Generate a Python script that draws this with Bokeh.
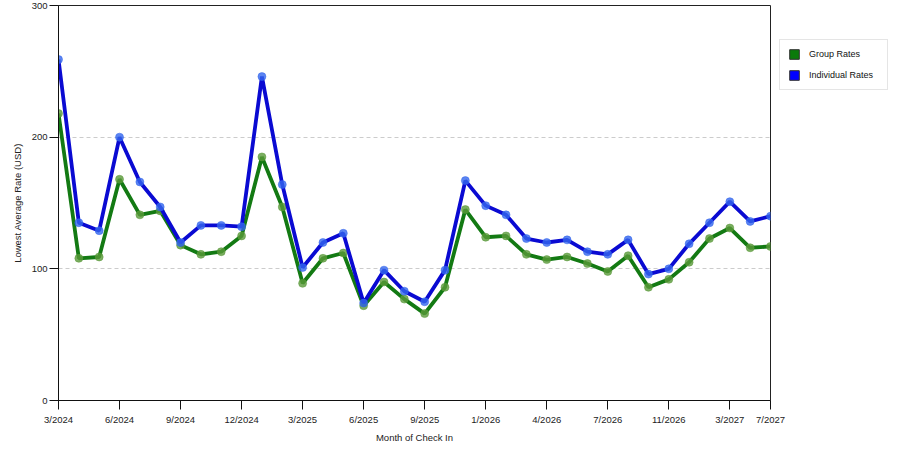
from bokeh.plotting import figure
from bokeh.models import ColumnDataSource, FixedTicker, Legend, LegendItem
from bokeh.embed import file_html
from bokeh.resources import INLINE

# months of check in (one point per entry), labels shown on every 3rd point + last
months = ["3/2024", "4/2024", "5/2024", "6/2024", "7/2024", "8/2024", "9/2024",
          "10/2024", "11/2024", "12/2024", "1/2025", "2/2025", "3/2025", "4/2025",
          "5/2025", "6/2025", "7/2025", "8/2025", "9/2025", "10/2025", "11/2025",
          "1/2026", "2/2026", "3/2026", "4/2026", "5/2026", "6/2026", "7/2026",
          "8/2026", "10/2026", "11/2026", "12/2026", "1/2027", "3/2027", "5/2027",
          "7/2027"]
tick_idx = [0, 3, 6, 9, 12, 15, 18, 21, 24, 27, 30, 33, 35]

group_rates = [218, 108, 109, 168, 141, 144, 118, 111, 113, 125, 185, 147,
               89, 108, 112, 72, 90, 77, 66, 86, 145, 124, 125, 111,
               107, 109, 104, 98, 110, 86, 92, 105, 123, 131, 116, 117]
indiv_rates = [259, 135, 129, 200, 166, 147, 120, 133, 133, 132, 246, 164,
               101, 120, 127, 74, 99, 83, 75, 99, 167, 148, 141, 123,
               120, 122, 113, 111, 122, 96, 100, 119, 135, 151, 136, 140]

x = list(range(len(months)))
src = ColumnDataSource(dict(x=x, g=group_rates, i=indiv_rates))

FONT = "Liberation Sans"

p = figure(frame_width=712, frame_height=395, output_backend="svg",
           toolbar_location=None,
           x_range=(0, len(months) - 1), y_range=(0, 300),
           min_border_left=58, min_border_right=0, min_border_top=5,
           min_border_bottom=40)
p.outline_line_color = "#222222"
p.background_fill_color = "white"
p.border_fill_color = "white"

gl = p.line("x", "g", source=src, line_color="#137a13", line_width=3.8)
gs = p.scatter("x", "g", source=src, size=8, fill_color="#5a9a3a",
               line_color="#5a9a3a", fill_alpha=0.8, line_alpha=0.5)
bl = p.line("x", "i", source=src, line_color="#0a0ad2", line_width=3.8)
bs = p.scatter("x", "i", source=src, size=8, fill_color="#3366ee",
               line_color="#3366ee", fill_alpha=0.8, line_alpha=0.5)

# hidden rects, only used for the square legend swatches
sq_g = p.rect("x", "g", width=0.1, height=1, source=src, visible=False,
              fill_color="#0b7b0b", line_color="#333333")
sq_b = p.rect("x", "i", width=0.1, height=1, source=src, visible=False,
              fill_color="#0000ff", line_color="#333333")

p.xgrid.grid_line_color = None
p.ygrid.grid_line_color = "#cccccc"
p.ygrid.grid_line_dash = "4 3"

p.xaxis.ticker = FixedTicker(ticks=tick_idx)
p.xaxis.major_label_overrides = {i: months[i] for i in tick_idx}
p.yaxis.ticker = FixedTicker(ticks=[0, 100, 200, 300])

for ax in (p.xaxis, p.yaxis):
    ax.axis_line_color = "#111111"
    ax.major_tick_line_color = "#111111"
    ax.major_tick_in = 0
    ax.major_tick_out = 9
    ax.minor_tick_line_color = None
    ax.major_label_text_font = FONT
    ax.major_label_text_font_size = "9.5px"
    ax.major_label_text_color = "#222222"
    ax.axis_label_text_font = FONT
    ax.axis_label_text_font_size = "9.5px"
    ax.axis_label_text_font_style = "normal"
    ax.axis_label_text_color = "#222222"

p.xaxis.axis_label = "Month of Check In"
p.yaxis.axis_label = "Lowest Average Rate (USD)"
p.xaxis.major_label_standoff = 4
p.xaxis.axis_label_standoff = 4
p.yaxis.major_label_standoff = 2
p.yaxis.axis_label_standoff = 6

legend = Legend(items=[LegendItem(label="Group Rates", renderers=[sq_g]),
                       LegendItem(label="Individual Rates", renderers=[sq_b])],
                location=(9, 310), orientation="vertical")
legend.glyph_width = 12
legend.glyph_height = 12
legend.label_height = 12
legend.label_width = 70
legend.spacing = 9
legend.padding = 8
legend.margin = 0
legend.label_standoff = 9
legend.label_text_font = FONT
legend.label_text_font_size = "9px"
legend.label_text_color = "#111111"
legend.border_line_color = "#cccccc"
legend.background_fill_color = "white"
p.add_layout(legend, "right")

open("out.html", "w").write(file_html(p, INLINE))
